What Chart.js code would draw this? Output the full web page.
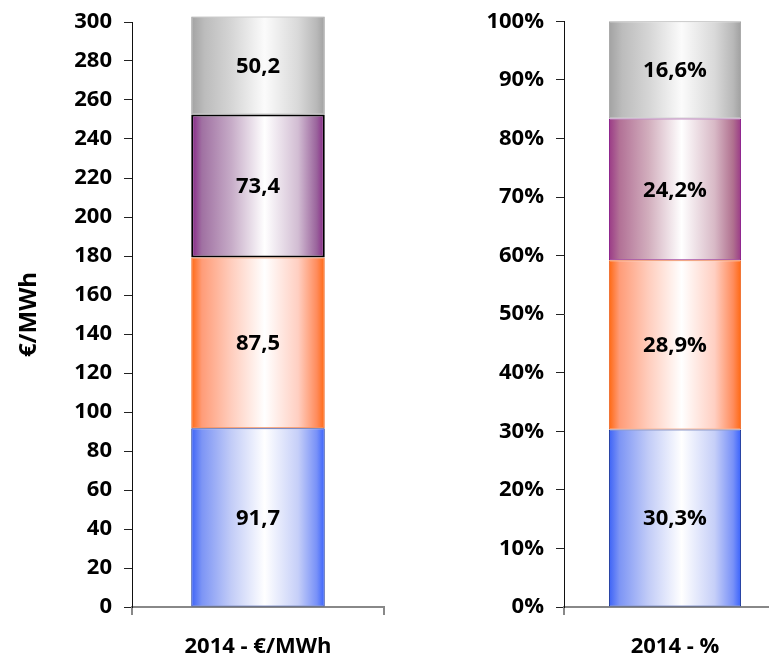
<!DOCTYPE html>
<html>
<head>
<meta charset="utf-8">
<script src="https://cdn.jsdelivr.net/npm/chart.js@4"></script>
<style>
  html, body { margin: 0; padding: 0; background: #fff; overflow: hidden; }
  #wrap { position: relative; width: 769px; height: 661px; overflow: hidden; }
  #costChart { position: absolute; left: 0; top: 0; }
  #shareChart { position: absolute; left: 384px; top: 0; }
</style>
</head>
<body>
<div id="wrap">
  <canvas id="costChart" width="400" height="661"></canvas>
  <canvas id="shareChart" width="402" height="661"></canvas>
</div>
<script>
// Cost components, bottom to top
const COST_LABELS = ['2014 - €/MWh'];
const COST_VALUES = [91.7, 87.5, 73.4, 50.2];
const COST_TICKS = { min: 0, max: 300, step: 20 };

const SHARE_LABELS = ['2014 - %'];
const SHARE_VALUES = [30.3, 28.9, 24.2, 16.6];
const SHARE_TICKS = { min: 0, max: 100, step: 10 };

const FONT = '"Open Sans"';

// horizontal shading per segment: [position, colour]
const BLUE = [[0, '#3d63f7'], [0.08, '#7d95f5'], [0.3, '#c2ccf7'], [0.55, '#ffffff'], [0.8, '#c6cff8'], [0.94, '#7891f8'], [1, '#3962fc']];
const ORANGE = [[0, '#ff6812'], [0.08, '#ff9c78'], [0.3, '#ffcdbd'], [0.55, '#ffffff'], [0.8, '#ffcfc2'], [0.94, '#ff8c5c'], [1, '#ff6812']];
const PURPLE = [[0, '#862486'], [0.08, '#a071a2'], [0.3, '#c6abc7'], [0.55, '#ffffff'], [0.8, '#d2bdd3'], [0.94, '#9a649c'], [1, '#862486']];
const MAUVE = [[0, '#9a3a86'], [0.08, '#b27196'], [0.3, '#d2aebd'], [0.55, '#ffffff'], [0.8, '#d8b9c6'], [0.94, '#b0708f'], [1, '#9a3a86']];
const GREY = [[0, '#a2a2a2'], [0.1, '#bcbcbc'], [0.3, '#d5d5d5'], [0.55, '#fbfbfb'], [0.8, '#d9d9d9'], [0.94, '#b8b8b8'], [1, '#a0a0a0']];

function gradientFill(stops, barPct) {
  return (context) => {
    const chart = context.chart;
    const x = chart.scales.x;
    if (!chart.chartArea || !x) return stops[0][1];
    const cx = x.getPixelForValue(0);
    const half = (x.width / chart.data.labels.length) * barPct / 2;
    const g = chart.ctx.createLinearGradient(cx - half, 0, cx + half, 0);
    stops.forEach(([p, c]) => g.addColorStop(p, c));
    return g;
  };
}

// writes each segment's value in the middle of it
const segmentLabels = {
  id: 'segmentLabels',
  afterDatasetsDraw(chart, args, opts) {
    const ctx = chart.ctx;
    ctx.save();
    ctx.font = 'bold 22px ' + FONT;
    ctx.fillStyle = '#000';
    ctx.textAlign = 'center';
    ctx.textBaseline = 'middle';
    chart.data.datasets.forEach((ds, i) => {
      chart.getDatasetMeta(i).data.forEach((bar, j) => {
        const p = bar.getProps(['x', 'y', 'base'], true);
        ctx.fillText(ds.data[j].toFixed(1).replace('.', ',') + opts.suffix, p.x, (p.y + p.base) / 2 + 1);
      });
    });
    ctx.restore();
  }
};

function makeChart(id, labels, values, fills, borders, borderWidths, ticks, opts) {
  const datasets = values.map((v, i) => ({
    data: [v],
    backgroundColor: gradientFill(fills[i], opts.barPct),
    borderColor: borders[i],
    borderWidth: borderWidths[i],
    borderSkipped: false,
    barPercentage: opts.barPct,
    categoryPercentage: 1,
    clip: false
  }));

  return new Chart(document.getElementById(id), {
    type: 'bar',
    data: { labels: labels, datasets: datasets },
    options: {
      responsive: false,
      animation: false,
      layout: { padding: { top: opts.padTop, right: opts.padRight, left: 0, bottom: 0 } },
      plugins: {
        legend: { display: false },
        tooltip: { enabled: false },
        segmentLabels: { suffix: opts.suffix }
      },
      scales: {
        x: {
          stacked: true,
          afterFit: (s) => { s.height = 54; },
          grid: { drawOnChartArea: false, offset: true, tickLength: 8, color: '#888', lineWidth: 2 },
          border: { color: '#888', width: 2 },
          ticks: { color: '#000', padding: 19, font: { family: FONT, size: 22, weight: 'bold' } }
        },
        y: {
          stacked: true,
          min: ticks.min,
          max: ticks.max,
          afterFit: (s) => { s.width = opts.axisWidth; },
          grid: { drawOnChartArea: false, tickLength: 8, color: '#222' },
          border: { color: '#111', width: 1 },
          title: {
            display: !!opts.title,
            text: opts.title,
            color: '#000',
            padding: { top: 15, bottom: 0 },
            font: { family: FONT, size: 24, weight: 'bold' }
          },
          ticks: {
            stepSize: ticks.step,
            color: '#000',
            padding: 12,
            font: { family: FONT, size: 22, weight: 'bold', lineHeight: 0.85 },
            callback: (v) => v + opts.suffix
          }
        }
      }
    },
    plugins: [segmentLabels]
  });
}

makeChart('costChart', COST_LABELS, COST_VALUES,
  [BLUE, ORANGE, PURPLE, GREY],
  ['#1f3a9c', '#f07030', '#000000', '#9a9a9a'],
  [1, 1, 2, 1],
  COST_TICKS,
  { barPct: 0.53, padTop: 22, padRight: 16, axisWidth: 132, suffix: '', title: '€/MWh' });

makeChart('shareChart', SHARE_LABELS, SHARE_VALUES,
  [BLUE, ORANGE, MAUVE, GREY],
  ['#1f3a9c', '#f07030', '#8a1c8a', '#a8a8a8'],
  [1, 1, 1, 1],
  SHARE_TICKS,
  { barPct: 0.595, padTop: 21, padRight: 0, axisWidth: 180, suffix: '%', title: '' });
</script>
</body>
</html>
